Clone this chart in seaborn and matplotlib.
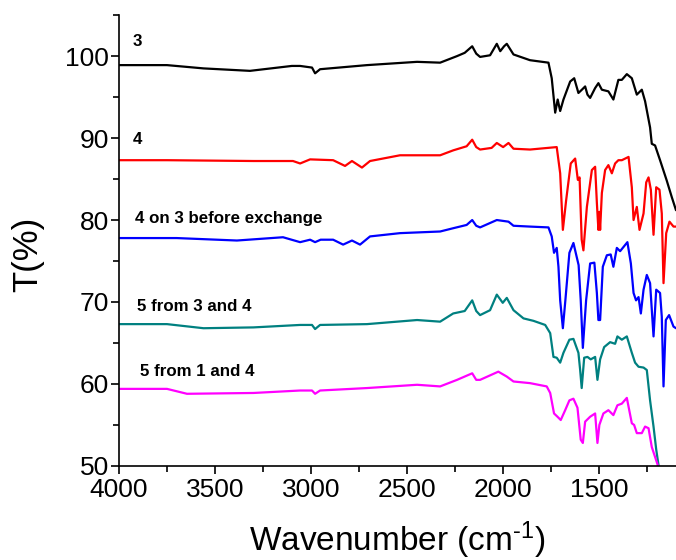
import matplotlib
matplotlib.use("Agg")
import matplotlib.pyplot as plt
from matplotlib.ticker import MultipleLocator
import seaborn as sns
import pandas as pd

# ---- data ----
wn_3 = [4000, 3750, 3560, 3318, 3100, 3057, 2995, 2979, 2953, 2709, 2448, 2328, 2240, 2200, 2161, 2140, 2120, 2068, 2033, 2015, 1995, 1981, 1946, 1860, 1764, 1747, 1729, 1716, 1703, 1686, 1651, 1630, 1608, 1590, 1573, 1561, 1547, 1521, 1504, 1486, 1452, 1426, 1400, 1382, 1356, 1330, 1304, 1278, 1261, 1235, 1226, 1209, 1183, 1148, 1122, 1100]
t_3 = [98.9, 98.9, 98.5, 98.2, 98.8, 98.8, 98.6, 97.9, 98.4, 98.9, 99.3, 99.2, 100.0, 100.4, 101.2, 100.3, 99.9, 100.1, 101.5, 100.6, 101.2, 101.5, 100.2, 99.5, 99.2, 97.3, 93.1, 94.7, 93.3, 94.7, 96.9, 97.3, 95.5, 95.9, 96.3, 95.3, 94.9, 96.1, 96.7, 95.9, 95.7, 94.7, 97.1, 97.1, 97.8, 97.3, 95.3, 95.9, 94.5, 91.3, 89.3, 89.1, 87.3, 84.8, 82.8, 81.2]

wn_4 = [4000, 3750, 3300, 3094, 3057, 3005, 2885, 2823, 2787, 2735, 2693, 2537, 2328, 2260, 2190, 2161, 2140, 2120, 2060, 2033, 2000, 1972, 1946, 1860, 1721, 1703, 1689, 1672, 1648, 1625, 1611, 1602, 1591, 1582, 1564, 1538, 1521, 1512, 1504, 1499, 1495, 1486, 1469, 1452, 1434, 1417, 1400, 1382, 1347, 1330, 1321, 1304, 1290, 1269, 1255, 1243, 1231, 1217, 1203, 1186, 1174, 1165, 1151, 1134, 1113, 1100]
t_4 = [87.3, 87.3, 87.2, 87.2, 86.9, 87.4, 87.3, 86.6, 87.2, 86.4, 87.2, 87.9, 87.9, 88.5, 89.0, 89.8, 88.9, 88.6, 88.8, 89.4, 88.9, 89.4, 88.7, 88.6, 88.9, 85.7, 78.8, 82.4, 86.9, 87.5, 84.9, 85.2, 77.6, 76.3, 81.6, 86.1, 86.5, 82.1, 78.8, 81.0, 78.8, 83.3, 86.1, 86.7, 85.7, 86.9, 87.3, 87.3, 87.7, 84.0, 80.0, 81.6, 78.8, 80.8, 84.6, 85.2, 83.7, 78.2, 84.0, 83.7, 80.8, 72.3, 78.4, 79.8, 79.2, 79.2]

wn_4on3 = [4000, 3700, 3386, 3146, 3057, 3005, 2979, 2950, 2885, 2833, 2787, 2745, 2693, 2537, 2328, 2260, 2190, 2161, 2140, 2120, 2033, 1972, 1946, 1860, 1764, 1747, 1735, 1721, 1712, 1703, 1689, 1676, 1655, 1634, 1617, 1607, 1596, 1585, 1568, 1547, 1525, 1512, 1504, 1495, 1481, 1460, 1440, 1426, 1408, 1391, 1353, 1335, 1321, 1308, 1295, 1283, 1269, 1252, 1235, 1217, 1203, 1183, 1174, 1165, 1153, 1136, 1113, 1100]
t_4on3 = [77.8, 77.8, 77.5, 77.9, 77.3, 77.6, 77.3, 77.6, 77.6, 77.0, 77.5, 77.0, 78.0, 78.4, 78.6, 79.0, 79.4, 80.0, 79.3, 79.1, 80.0, 79.8, 79.3, 79.2, 79.1, 78.0, 76.0, 76.6, 74.3, 70.2, 66.8, 70.2, 76.0, 77.2, 75.5, 74.5, 70.2, 64.4, 70.2, 74.7, 74.8, 71.1, 67.8, 67.8, 74.3, 75.7, 75.8, 74.3, 76.6, 76.2, 77.3, 74.7, 71.1, 70.2, 70.6, 68.6, 71.5, 73.3, 72.3, 65.8, 71.5, 71.1, 68.2, 59.7, 67.8, 68.4, 67.0, 66.8]

wn_5a = [4000, 3750, 3560, 3300, 3057, 2995, 2979, 2953, 2709, 2448, 2328, 2260, 2200, 2161, 2140, 2120, 2068, 2033, 2002, 1981, 1946, 1894, 1842, 1781, 1755, 1738, 1721, 1703, 1686, 1655, 1634, 1608, 1599, 1591, 1578, 1561, 1544, 1521, 1509, 1495, 1474, 1443, 1417, 1405, 1382, 1356, 1330, 1313, 1295, 1269, 1252, 1235, 1217, 1203, 1191, 1150]
t_5a = [67.3, 67.3, 66.8, 66.9, 67.2, 67.2, 66.7, 67.2, 67.3, 67.8, 67.6, 68.6, 68.9, 70.2, 68.9, 68.4, 69.0, 70.9, 69.9, 70.5, 69.0, 68.0, 67.7, 67.2, 66.2, 63.3, 63.2, 62.6, 63.8, 65.4, 65.5, 63.8, 61.7, 59.5, 63.2, 63.3, 63.0, 63.3, 60.5, 63.0, 64.5, 65.1, 64.9, 65.8, 65.4, 65.8, 63.8, 62.6, 62.1, 62.0, 61.7, 58.0, 54.8, 52.0, 50.1, 44.0]

wn_5b = [4000, 3750, 3646, 3300, 3057, 2995, 2979, 2953, 2709, 2448, 2328, 2240, 2161, 2140, 2120, 2025, 1981, 1946, 1860, 1773, 1755, 1735, 1717, 1700, 1677, 1655, 1634, 1613, 1596, 1585, 1573, 1547, 1521, 1509, 1499, 1478, 1452, 1426, 1405, 1382, 1356, 1330, 1318, 1304, 1278, 1261, 1243, 1226, 1209, 1195, 1150]
t_5b = [59.4, 59.4, 58.8, 58.9, 59.2, 59.2, 58.8, 59.2, 59.5, 59.9, 59.7, 60.5, 61.3, 60.5, 60.5, 61.5, 60.9, 60.3, 60.1, 59.7, 58.9, 56.4, 56.0, 55.6, 56.8, 58.0, 58.2, 57.1, 53.2, 52.8, 55.4, 56.0, 56.4, 52.8, 55.0, 56.4, 56.8, 56.2, 57.4, 57.6, 58.3, 55.2, 55.0, 54.0, 54.0, 54.8, 54.6, 52.3, 51.1, 50.1, 44.0]

series_names = ["3", "4", "4 on 3 before exchange", "5 from 3 and 4", "5 from 1 and 4"]
series_wn = [wn_3, wn_4, wn_4on3, wn_5a, wn_5b]
series_t = [t_3, t_4, t_4on3, t_5a, t_5b]
colors = ["#000000", "#FF0000", "#0000FF", "#008080", "#FF00FF"]
label_pos = [(3927, 101.8), (3927, 89.8), (3917, 80.2), (3906, 69.4), (3890, 61.5)]

x_ticks = [4000, 3500, 3000, 2500, 2000, 1500]
y_ticks = [50, 60, 70, 80, 90, 100]

# ---- build table ----
frames = []
for name, w, t in zip(series_names, series_wn, series_t):
    frames.append(pd.DataFrame({"wn": w, "T": t, "sample": name}))
df = pd.concat(frames, ignore_index=True)

sns.set_theme(style="ticks")
plt.rcParams["font.family"] = ["Liberation Sans", "DejaVu Sans"]
plt.rcParams["mathtext.fontset"] = "custom"
plt.rcParams["mathtext.rm"] = "Liberation Sans"
plt.rcParams["mathtext.it"] = "Liberation Sans:italic"
plt.rcParams["mathtext.bf"] = "Liberation Sans:bold"
plt.rcParams["text.color"] = "black"
plt.rcParams["axes.labelcolor"] = "black"
plt.rcParams["xtick.color"] = "black"
plt.rcParams["ytick.color"] = "black"
plt.rcParams["xtick.labelcolor"] = "black"
plt.rcParams["ytick.labelcolor"] = "black"

fig = plt.figure(figsize=(6.76, 5.60), dpi=100)
ax = fig.add_axes([0.176, 0.168, 0.824, 0.805])

sns.lineplot(data=df, x="wn", y="T", hue="sample", hue_order=series_names,
             palette=colors, estimator=None, sort=False, linewidth=1.6,
             legend=False, ax=ax)

for name, (lx, ly) in zip(series_names, label_pos):
    ax.text(lx, ly, name, fontsize=12.2, fontweight="bold", color="black",
            ha="left", va="center")

ax.set_xlim(4000, 1100)
ax.set_ylim(50, 105)
ax.set_xticks(x_ticks)
ax.set_yticks(y_ticks)
ax.xaxis.set_minor_locator(MultipleLocator(250))
ax.yaxis.set_minor_locator(MultipleLocator(5))
ax.tick_params(axis="both", which="major", direction="out", length=6,
               width=1.2, labelsize=19, color="black", labelcolor="black")
ax.tick_params(axis="y", which="major", pad=1)
ax.tick_params(axis="x", which="major", pad=3)
ax.tick_params(axis="both", which="minor", direction="out", length=4,
               width=1.2, color="black")

for s in ["top", "right"]:
    ax.spines[s].set_visible(False)
for s in ["left", "bottom"]:
    ax.spines[s].set_linewidth(1.2)
    ax.spines[s].set_color("black")

ax.set_xlabel(r"Wavenumber (cm$^{\text{-}1}$)", fontsize=24, labelpad=12, color="black")
ax.set_ylabel("T(%)", fontsize=25, labelpad=4, color="black")
ax.yaxis.set_label_coords(-0.135, 0.47)

fig.savefig("out.png", dpi=100)
